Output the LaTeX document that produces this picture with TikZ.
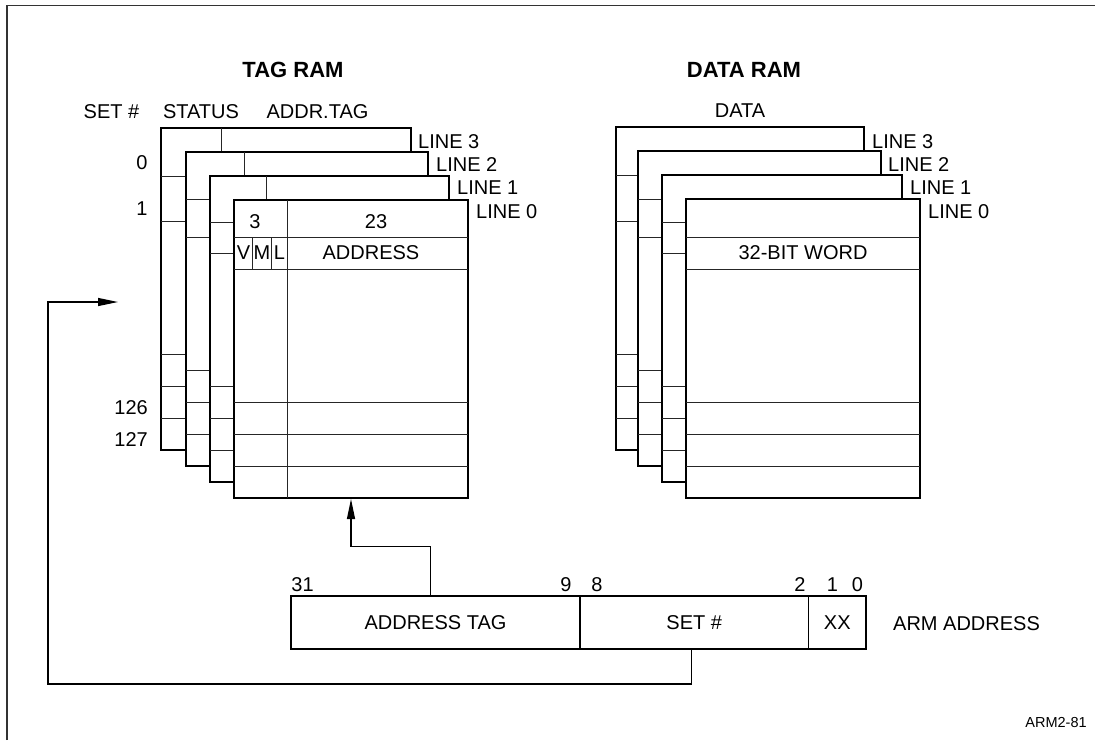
\documentclass[tikz,border=0pt]{standalone}
\usepackage{fontspec}
\setmainfont{Liberation Sans}
\usetikzlibrary{arrows.meta}
\tikzset{
  box/.style={draw=black, fill=white, line width=1.3pt},
  rowline/.style={draw=black!85, line width=0.9pt},
  lbl/.style={font=\fontsize{20}{22}\selectfont, inner sep=0pt},
  ttl/.style={font=\fontsize{22}{24}\selectfont\bfseries, inner sep=0pt},
  field/.style={draw=black, line width=1.3pt, minimum height=53pt, inner sep=0pt, font=\fontsize{20}{22}\selectfont},
  conn/.style={line width=1.2pt},
  tip/.style={-{Triangle[length=20pt,width=8pt]}}
}
\begin{document}
\begin{tikzpicture}[x=1pt,y=-1pt]
\useasboundingbox (0,0) rectangle (1095,740);
% frame
\draw[line width=1.4pt, black!80] (7,740) -- (7,5.5) -- (1095,5.5);

% ---------------- TAG RAM ----------------
\node[ttl] (tagtitle) at (293,70) {TAG RAM};
\node[lbl] (hset) at (111.5,112) {SET \#};
\node[lbl] (hstatus) at (201,112) {STATUS};
\node[lbl] (haddr) at (317.5,112) {ADDR.TAG};

% line 3
\filldraw[box] (161,128) rectangle (411,450);
\draw[rowline] (221,128) -- (221,450);
\foreach \y in {176,221,354,386,418} \draw[rowline] (161,\y) -- (411,\y);
% line 2
\filldraw[box] (186,152) rectangle (428,466);
\draw[rowline] (244,152) -- (244,466);
\foreach \y in {199,237,370,402,434} \draw[rowline] (186,\y) -- (428,\y);
% line 1
\filldraw[box] (210,176) rectangle (449,482);
\draw[rowline] (266,176) -- (266,482);
\foreach \y in {222,253,386,418,450} \draw[rowline] (210,\y) -- (449,\y);
% line 0
\filldraw[box] (234,200) rectangle (468,498);
\draw[rowline] (287,200) -- (287,498);
\foreach \y in {237,269,402,434,466} \draw[rowline] (234,\y) -- (468,\y);
\draw[rowline] (252.5,237) -- (252.5,269);
\draw[rowline] (271.5,237) -- (271.5,269);

\node[lbl, anchor=west] (tl3) at (418,142) {LINE 3};
\node[lbl, anchor=west] (tl2) at (436,165) {LINE 2};
\node[lbl, anchor=west] (tl1) at (457,188) {LINE 1};
\node[lbl, anchor=west] (tl0) at (476,212) {LINE 0};

\node[lbl] (s0) at (142,163) {0};
\node[lbl] (s1) at (142,209) {1};
\node[lbl, anchor=east] (s126) at (148,408) {126};
\node[lbl, anchor=east] (s127) at (148,440) {127};

\node[lbl] (n3) at (255,222) {3};
\node[lbl] (n23) at (376,222) {23};
\node[lbl] (bv) at (243.5,253) {V};
\node[lbl] (bm) at (262,253) {M};
\node[lbl] (bl) at (279.5,253) {L};
\node[lbl] (baddr) at (371,253) {ADDRESS};

% ---------------- DATA RAM ----------------
\node[ttl] (datatitle) at (744,70) {DATA RAM};
\node[lbl] (hdata) at (740,111) {DATA};

\filldraw[box] (616,127) rectangle (864,450);
\foreach \y in {175,221,354,386,418} \draw[rowline] (616,\y) -- (864,\y);
\filldraw[box] (638,151) rectangle (881,466);
\foreach \y in {199,237,370,402,434} \draw[rowline] (638,\y) -- (881,\y);
\filldraw[box] (662,175) rectangle (902,482);
\foreach \y in {222,253,386,418,450} \draw[rowline] (662,\y) -- (902,\y);
\filldraw[box] (686,199) rectangle (920,498);
\foreach \y in {237,269,402,434,466} \draw[rowline] (686,\y) -- (920,\y);

\node[lbl, anchor=west] (dl3) at (872,142) {LINE 3};
\node[lbl, anchor=west] (dl2) at (888,165) {LINE 2};
\node[lbl, anchor=west] (dl1) at (910,188) {LINE 1};
\node[lbl, anchor=west] (dl0) at (928,212) {LINE 0};
\node[lbl] (dword) at (803,253) {32-BIT WORD};

% ---------------- ARM ADDRESS ----------------
\node[field, minimum width=289pt] (atag) at (435.5,622.5) {ADDRESS TAG};
\node[field, minimum width=228.5pt] (aset) at (694.25,622.5) {SET \#};
\node[field, minimum width=57.5pt] (axx) at (837.25,622.5) {XX};
\node[lbl, anchor=west] (armaddr) at (893,624) {ARM ADDRESS};

\node[lbl] (b31) at (302.5,585) {31};
\node[lbl] (b9) at (566,585) {9};
\node[lbl] (b8) at (597,585) {8};
\node[lbl] (b2) at (800,585) {2};
\node[lbl] (b1) at (832.5,585) {1};
\node[lbl] (b0) at (857.5,585) {0};

% ---------------- connectors ----------------
\coordinate (tagbot) at (351,499);
\draw[conn,tip] ([xshift=-5pt]atag.north) -- ++(0,-49) -| (tagbot);

\coordinate (fbcorner) at (48,684);
\coordinate (tagin) at (118,302);
\draw[conn,tip] ([xshift=-2.5pt]aset.south) |- (fbcorner) -- (fbcorner |- tagin) -- (tagin);

\node[inner sep=0pt, font=\fontsize{14.5}{16}\selectfont] (fig) at (1056,722) {ARM2-81};
\end{tikzpicture}
\end{document}
